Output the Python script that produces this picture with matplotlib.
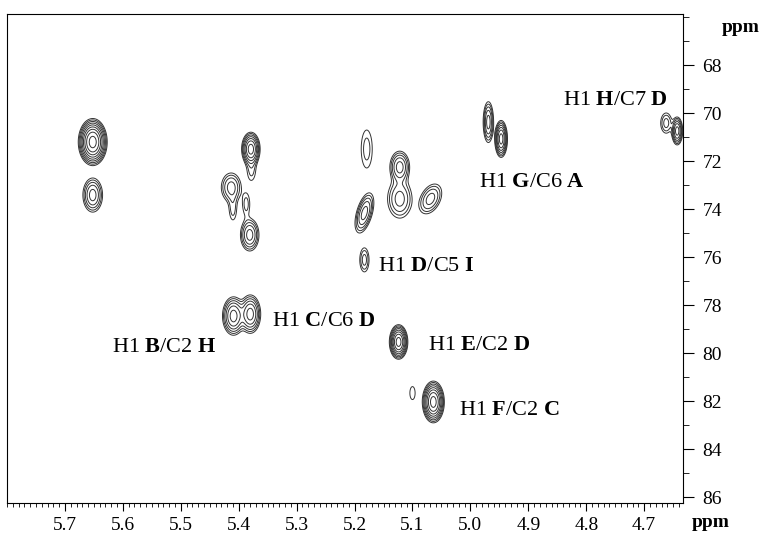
import numpy as np
import matplotlib
matplotlib.use('Agg')
import matplotlib.pyplot as plt
from matplotlib.ticker import MultipleLocator

plt.rcParams['font.family'] = ['Liberation Serif', 'DejaVu Serif']
plt.rcParams['mathtext.fontset'] = 'custom'
plt.rcParams['mathtext.rm'] = 'Liberation Serif'
plt.rcParams['mathtext.bf'] = 'Liberation Serif:bold'

# cross peaks: 1H shift, 13C shift, half width of outer contour (1H, 13C), contour count, tilt
peak_h = [5.652, 5.652, 5.379, 5.378, 5.413, 5.410, 5.387, 5.381, 5.409, 5.380,
          5.179, 5.183, 5.122, 5.122, 5.069, 5.183, 5.124, 5.100, 5.064,
          4.969, 4.947, 4.662, 4.643]
peak_c = [71.21, 73.42, 71.50, 72.35, 73.10, 74.00, 73.80, 75.08, 78.46, 78.38,
          71.50, 74.17, 72.25, 73.58, 73.58, 76.12, 79.54, 81.67, 82.04,
          70.38, 71.08, 70.42, 70.75]
half_h = [0.025, 0.017, 0.016, 0.007, 0.017, 0.006, 0.006, 0.016, 0.019, 0.018,
          0.0095, 0.014, 0.017, 0.021, 0.018, 0.008, 0.016, 0.0045, 0.019,
          0.009, 0.011, 0.0095, 0.0095]
half_c = [0.98, 0.71, 0.70, 0.45, 0.60, 0.45, 0.42, 0.67, 0.80, 0.80,
          0.79, 0.83, 0.66, 0.80, 0.62, 0.50, 0.72, 0.27, 0.87,
          0.85, 0.77, 0.42, 0.58]
n_levels = [9, 5, 7, 2, 4, 2, 2, 5, 6, 6,
            2, 5, 5, 4, 4, 3, 8, 1, 8,
            5, 7, 3, 6]
tilt = [0, 0, 0, 0, 0, 0, 0, 0, 0, 0,
        0, 0.010, 0, 0, 0.012, 0, 0, 0, 0,
        0, 0, 0, 0]

labels = ['H1 $\\mathbf{H}$/C7 $\\mathbf{D}$', 'H1 $\\mathbf{G}$/C6 $\\mathbf{A}$',
          'H1 $\\mathbf{D}$/C5 $\\mathbf{I}$', 'H1 $\\mathbf{C}$/C6 $\\mathbf{D}$',
          'H1 $\\mathbf{B}$/C2 $\\mathbf{H}$', 'H1 $\\mathbf{E}$/C2 $\\mathbf{D}$',
          'H1 $\\mathbf{F}$/C2 $\\mathbf{C}$']
label_h = [4.841, 4.986, 5.160, 5.343, 5.619, 5.074, 5.019]
label_c = [69.46, 72.88, 76.38, 78.70, 79.75, 79.67, 82.38]

factor = 1.3
x = np.linspace(4.62, 5.82, 1800)
y = np.linspace(65.5, 86.5, 700)
X, Y = np.meshgrid(x, y)
Z = np.zeros_like(X)
p = 1.6  # smooth union of overlapping peaks
for h0, c0, hw, cw, n, k in zip(peak_h, peak_c, half_h, half_c, n_levels, tilt):
    amp = factor ** (n - 0.5)
    s = np.sqrt(2 * np.log(amp))
    sx, sy = hw / s, cw / s
    xc = h0 + k * (Y - c0)
    Z += (amp * np.exp(-0.5 * (((X - xc) / sx) ** 2 + ((Y - c0) / sy) ** 2))) ** p
Z = Z ** (1 / p)

levels = factor ** np.arange(0, 14)

fig = plt.figure(figsize=(7.63, 5.39), dpi=100)
ax = fig.add_axes([7 / 763, 36 / 539, 676 / 763, 489 / 539])
ax.contour(X, Y, Z, levels=levels, colors='#333333', linewidths=0.7)

ax.set_xlim(5.80, 4.633)
ax.set_ylim(86.25, 65.875)

ax.xaxis.set_major_locator(MultipleLocator(0.1))
ax.xaxis.set_minor_locator(MultipleLocator(0.01))
ax.yaxis.set_minor_locator(MultipleLocator(1))
ax.yaxis.tick_right()
ax.tick_params(axis='x', which='major', direction='out', length=6, width=0.8,
               labelsize=14, pad=4)
ax.tick_params(axis='x', which='minor', direction='out', length=3, width=0.6)
ax.tick_params(axis='y', which='major', direction='out', length=8, width=0.8,
               labelsize=14, pad=6)
ax.tick_params(axis='y', which='minor', direction='out', length=4, width=0.6)
xt = np.arange(4.7, 5.75, 0.1)
ax.set_xticks(xt)
ax.set_xticklabels(['%.1f' % v for v in xt])
ax.set_yticks(np.arange(68, 87, 2))
for sp in ax.spines.values():
    sp.set_linewidth(0.8)

for t, lx, ly in zip(labels, label_h, label_c):
    ax.text(lx, ly, t, fontsize=16, ha='left', va='center')

ax.text(1.013, -0.04, 'ppm', transform=ax.transAxes, fontsize=14,
        fontweight='bold', ha='left', va='center')
ax.text(1.058, 0.973, 'ppm', transform=ax.transAxes, fontsize=14,
        fontweight='bold', ha='left', va='center')

fig.savefig('out.png', dpi=100)
